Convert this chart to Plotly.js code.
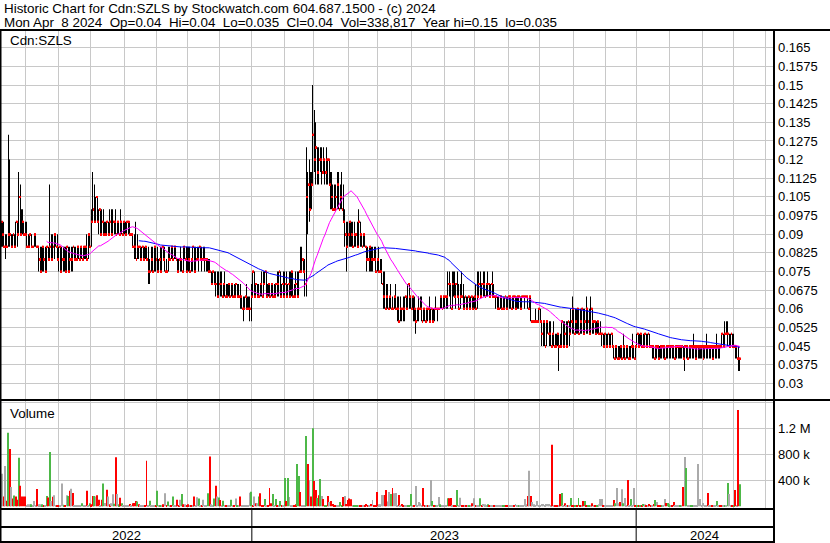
<!DOCTYPE html>
<html><head><meta charset="utf-8">
<script src="https://cdn.plot.ly/plotly-3.0.1.min.js"></script>
<style>html,body{margin:0;padding:0;background:#fff}#c{width:830px;height:543px}</style>
</head><body><div id="c"></div>
<script>
// ---- data ----
const openP=[
.095,.09,.085,.085,.085,.09,.09,.085,.09,.085,
.095,.09,.105,.09,.095,.09,.09,.085,.085,.09,
.085,.085,.09,.085,.085,.08,.075,.085,.08,.075,
.085,.08,.085,.08,.085,.09,.085,.08,.085,.075,
.08,.08,.075,.085,.075,.08,.08,.085,.08,.08,
.085,.08,.085,.08,.085,.085,.08,.09,.085,.095,
.1,.095,.105,.095,.1,.09,.095,.09,.09,.095,
.09,.095,.09,.095,.095,.09,.095,.09,.095,.09,
.095,.09,.095,.095,.09,.09,.085,.085,.08,.085,
.085,.08,.085,.08,.085,.08,.075,.075,.08,.075,
.085,.08,.075,.08,.075,.085,.08,.075,.075,.08,
.08,.085,.08,.085,.08,.075,.08,.08,.075,.085,
.08,.075,.08,.075,.08,.085,.075,.08,.08,.085,
.08,.08,.08,.08,.08,.075,.075,.07,.075,.07,
.07,.065,.07,.07,.065,.07,.065,.065,.07,.065,
.07,.065,.065,.07,.065,.065,.065,.06,.06,.065,
.06,.06,.06,.065,.075,.065,.07,.065,.065,.07,
.065,.07,.075,.065,.07,.065,.07,.065,.065,.07,
.07,.075,.065,.07,.065,.07,.065,.07,.065,.075,
.065,.065,.07,.065,.075,.075,.08,.075,.07,.105,
.11,.1,.11,.13,.12,.125,.115,.12,.12,.115,
.12,.115,.12,.12,.11,.105,.1,.1,.105,.11,
.1,.105,.1,.095,.09,.085,.09,.095,.09,.085,
.09,.09,.085,.095,.09,.085,.09,.085,.08,.08,
.085,.08,.08,.08,.075,.08,.075,.075,.07,.065,
.06,.065,.06,.065,.06,.06,.065,.06,.06,.055,
.06,.06,.06,.065,.06,.07,.065,.06,.065,.06,
.055,.06,.06,.06,.055,.06,.055,.06,.06,.055,
.06,.055,.06,.06,.06,.06,.065,.06,.065,.065,
.065,.07,.07,.06,.07,.065,.07,.065,.06,.065,
.065,.06,.065,.06,.065,.06,.065,.06,.065,.06,
.065,.07,.065,.07,.07,.065,.07,.07,.065,.07,
.065,.065,.065,.06,.06,.065,.06,.06,.065,.06,
.065,.065,.06,.065,.065,.06,.065,.065,.06,.065,
.065,.065,.065,.06,.065,.055,.055,.055,.055,.055,
.06,.055,.05,.055,.045,.055,.05,.05,.045,.05,
.045,.045,.05,.045,.045,.055,.045,.05,.045,.055,
.05,.055,.06,.05,.055,.06,.05,.055,.06,.05,
.055,.06,.055,.05,.06,.055,.055,.05,.055,.05,
.05,.05,.045,.05,.045,.05,.045,.05,.045,.04,
.045,.04,.04,.045,.04,.045,.04,.045,.04,.04,
.045,.045,.04,.045,.05,.045,.05,.045,.045,.05,
.045,.05,.045,.045,.045,.04,.045,.045,.04,.045,
.045,.045,.04,.045,.045,.045,.045,.045,.04,.045,
.045,.045,.045,.045,.04,.045,.045,.04,.045,.045,
.045,.045,.045,.045,.045,.045,.045,.045,.045,.045,
.045,.045,.045,.045,.045,.045,.045,.045,.045,.05,
.045,.05,.05,.05,.045,.05,.045,.045,.045,.04,
.04];
const highP=[
.095,.095,.09,.09,.13,.12,.09,.09,.09,.095,
.095,.115,.11,.1,.095,.095,.095,.09,.09,.09,
.085,.09,.09,.085,.085,.085,.085,.085,.085,.085,
.085,.11,.09,.09,.09,.09,.09,.085,.085,.085,
.085,.085,.085,.085,.085,.085,.085,.085,.085,.085,
.085,.085,.085,.085,.085,.09,.09,.09,.1,.115,
.11,.105,.105,.1,.1,.1,.1,.095,.095,.095,
.1,.1,.1,.095,.1,.095,.095,.1,.095,.095,
.095,.095,.095,.095,.09,.09,.09,.095,.09,.085,
.085,.085,.085,.085,.085,.085,.08,.085,.085,.085,
.085,.085,.08,.085,.085,.085,.085,.08,.085,.085,
.085,.085,.085,.085,.08,.08,.085,.08,.085,.085,
.085,.085,.085,.08,.085,.085,.085,.085,.085,.085,
.085,.085,.085,.08,.08,.08,.075,.075,.075,.075,
.075,.075,.075,.075,.07,.075,.07,.07,.07,.07,
.07,.07,.07,.07,.07,.07,.065,.065,.065,.07,
.065,.065,.07,.075,.075,.07,.07,.07,.07,.075,
.075,.075,.075,.07,.07,.07,.07,.07,.07,.075,
.075,.075,.07,.075,.075,.075,.07,.075,.075,.075,
.07,.075,.075,.075,.085,.085,.08,.08,.125,.115,
.12,.115,.15,.14,.135,.125,.125,.125,.125,.125,
.12,.125,.12,.12,.115,.11,.11,.11,.115,.115,
.11,.115,.11,.1,.095,.095,.095,.095,.095,.095,
.09,.095,.1,.095,.09,.09,.09,.085,.085,.085,
.085,.085,.085,.085,.08,.085,.08,.08,.075,.075,
.07,.07,.065,.07,.065,.065,.07,.065,.065,.065,
.06,.065,.065,.065,.07,.07,.065,.065,.065,.06,
.06,.065,.065,.065,.06,.06,.06,.06,.065,.06,
.06,.06,.065,.06,.06,.065,.065,.065,.065,.065,
.075,.075,.07,.075,.075,.07,.075,.07,.07,.075,
.07,.065,.065,.065,.065,.065,.065,.065,.07,.075,
.075,.075,.07,.075,.075,.07,.075,.07,.07,.075,
.07,.065,.065,.065,.065,.065,.065,.065,.065,.065,
.065,.065,.065,.065,.065,.065,.065,.065,.065,.065,
.065,.065,.065,.065,.065,.055,.055,.06,.055,.06,
.06,.055,.055,.055,.055,.055,.055,.055,.05,.055,
.05,.05,.05,.05,.055,.055,.055,.055,.055,.055,
.06,.065,.06,.06,.06,.06,.06,.06,.06,.06,
.065,.06,.06,.065,.06,.055,.055,.055,.055,.055,
.05,.05,.05,.05,.05,.05,.05,.05,.045,.045,
.045,.045,.045,.045,.05,.045,.045,.045,.045,.045,
.05,.045,.045,.05,.05,.05,.05,.05,.05,.05,
.05,.05,.045,.045,.045,.045,.045,.045,.045,.045,
.045,.045,.045,.045,.045,.045,.045,.045,.045,.045,
.045,.045,.045,.045,.045,.045,.045,.045,.045,.045,
.05,.045,.045,.045,.045,.045,.045,.045,.05,.045,
.045,.045,.045,.045,.045,.05,.045,.045,.05,.05,
.055,.055,.055,.05,.05,.05,.05,.045,.045,.045,
.04];
const lowP=[
.085,.085,.08,.085,.085,.085,.085,.085,.085,.085,
.085,.09,.09,.09,.09,.09,.085,.085,.085,.085,
.085,.085,.085,.085,.075,.075,.075,.075,.075,.075,
.08,.08,.08,.08,.08,.085,.08,.075,.075,.075,
.075,.075,.075,.075,.075,.075,.075,.08,.08,.08,
.08,.08,.08,.08,.08,.08,.08,.085,.085,.095,
.095,.095,.095,.09,.09,.09,.09,.09,.09,.09,
.09,.09,.09,.09,.09,.09,.09,.09,.09,.09,
.09,.09,.09,.09,.09,.085,.08,.08,.08,.08,
.08,.08,.08,.08,.08,.07,.07,.075,.075,.075,
.075,.075,.075,.075,.075,.08,.075,.075,.075,.08,
.08,.08,.08,.08,.075,.075,.075,.075,.075,.08,
.075,.075,.075,.075,.075,.075,.075,.08,.075,.08,
.075,.08,.075,.075,.075,.075,.07,.07,.07,.065,
.065,.065,.065,.065,.065,.065,.065,.065,.065,.065,
.065,.065,.065,.065,.065,.06,.06,.055,.06,.06,
.06,.055,.055,.065,.065,.065,.065,.065,.065,.065,
.065,.07,.065,.065,.065,.065,.065,.065,.065,.065,
.065,.065,.065,.065,.065,.065,.065,.065,.065,.065,
.065,.065,.065,.065,.075,.075,.075,.065,.065,.09,
.095,.1,.11,.115,.11,.11,.11,.115,.11,.115,
.11,.11,.11,.11,.1,.1,.1,.1,.1,.1,
.1,.1,.095,.085,.075,.085,.085,.085,.085,.085,
.085,.085,.085,.085,.085,.085,.085,.075,.08,.075,
.075,.075,.08,.075,.075,.075,.075,.07,.06,.06,
.06,.06,.06,.06,.06,.06,.06,.055,.055,.055,
.055,.055,.055,.06,.06,.06,.06,.06,.055,.05,
.055,.055,.06,.055,.055,.055,.055,.055,.055,.055,
.055,.055,.06,.055,.06,.06,.06,.06,.06,.06,
.06,.065,.06,.06,.065,.06,.065,.06,.06,.065,
.06,.06,.06,.06,.06,.06,.06,.06,.06,.06,
.065,.065,.065,.065,.065,.065,.065,.065,.065,.065,
.065,.06,.06,.06,.06,.06,.06,.06,.06,.06,
.06,.06,.06,.06,.06,.06,.06,.06,.06,.065,
.06,.065,.06,.06,.055,.055,.055,.055,.055,.055,
.055,.045,.045,.045,.045,.05,.045,.045,.045,.045,
.045,.045,.035,.045,.045,.045,.045,.045,.045,.045,
.05,.05,.05,.05,.05,.05,.05,.05,.05,.05,
.05,.05,.05,.05,.05,.05,.05,.05,.05,.05,
.045,.045,.045,.045,.045,.045,.045,.045,.04,.04,
.04,.04,.04,.04,.04,.04,.04,.04,.04,.04,
.04,.04,.04,.045,.045,.045,.045,.045,.045,.045,
.045,.045,.045,.04,.04,.04,.04,.04,.04,.04,
.04,.04,.04,.04,.04,.04,.04,.04,.04,.04,
.04,.04,.04,.04,.035,.04,.04,.04,.04,.04,
.04,.04,.04,.04,.04,.04,.04,.04,.04,.04,
.04,.04,.04,.04,.04,.04,.04,.04,.045,.045,
.045,.05,.045,.045,.045,.045,.045,.04,.04,.035,
.035];
const closeP=[
.095,.085,.085,.085,.09,.09,.085,.09,.085,.095,
.09,.105,.09,.095,.09,.09,.085,.085,.09,.085,
.085,.09,.085,.085,.08,.075,.085,.08,.075,.085,
.08,.085,.08,.085,.09,.085,.08,.085,.075,.08,
.08,.075,.085,.075,.08,.08,.085,.08,.08,.085,
.08,.085,.08,.085,.085,.08,.09,.085,.095,.1,
.095,.105,.095,.1,.09,.095,.09,.09,.095,.09,
.095,.09,.095,.095,.09,.095,.09,.095,.09,.095,
.09,.095,.095,.09,.09,.085,.085,.08,.085,.085,
.08,.085,.08,.085,.08,.075,.075,.08,.075,.085,
.08,.075,.08,.075,.085,.08,.075,.075,.08,.08,
.085,.08,.085,.08,.075,.08,.08,.075,.085,.08,
.075,.08,.075,.08,.085,.075,.08,.08,.085,.08,
.08,.08,.08,.08,.075,.075,.07,.075,.07,.07,
.065,.07,.07,.065,.07,.065,.065,.07,.065,.07,
.065,.065,.07,.065,.065,.065,.06,.06,.065,.06,
.06,.06,.065,.075,.065,.07,.065,.065,.07,.065,
.07,.075,.065,.07,.065,.07,.065,.065,.07,.07,
.075,.065,.07,.065,.07,.065,.07,.065,.075,.065,
.065,.07,.065,.075,.075,.08,.075,.07,.105,.11,
.1,.11,.13,.12,.125,.115,.12,.12,.115,.12,
.115,.12,.12,.11,.105,.1,.1,.105,.11,.1,
.105,.1,.095,.09,.085,.09,.095,.09,.085,.09,
.09,.085,.095,.09,.085,.09,.085,.08,.08,.085,
.08,.08,.08,.075,.08,.075,.075,.07,.065,.06,
.065,.06,.065,.06,.06,.065,.06,.06,.055,.06,
.06,.06,.065,.06,.07,.065,.06,.065,.06,.055,
.06,.06,.06,.055,.06,.055,.06,.06,.055,.06,
.055,.06,.06,.06,.06,.065,.06,.065,.065,.065,
.07,.07,.06,.07,.065,.07,.065,.06,.065,.065,
.06,.065,.06,.065,.06,.065,.06,.065,.06,.065,
.07,.065,.07,.07,.065,.07,.07,.065,.07,.065,
.065,.065,.06,.06,.065,.06,.06,.065,.06,.065,
.065,.06,.065,.065,.06,.065,.065,.06,.065,.065,
.065,.065,.06,.065,.055,.055,.055,.055,.055,.06,
.055,.05,.055,.045,.055,.05,.05,.045,.05,.045,
.045,.05,.045,.045,.055,.045,.05,.045,.055,.05,
.055,.06,.05,.055,.06,.05,.055,.06,.05,.055,
.06,.055,.05,.06,.055,.055,.05,.055,.05,.05,
.05,.045,.05,.045,.05,.045,.05,.045,.04,.045,
.04,.04,.045,.04,.045,.04,.045,.04,.04,.045,
.045,.04,.045,.05,.045,.05,.045,.045,.05,.045,
.05,.045,.045,.045,.04,.045,.045,.04,.045,.045,
.045,.04,.045,.045,.045,.045,.045,.04,.045,.045,
.045,.045,.045,.04,.045,.045,.04,.045,.045,.045,
.045,.04,.045,.045,.045,.045,.04,.045,.045,.045,
.045,.045,.04,.045,.045,.045,.045,.045,.05,.045,
.05,.05,.05,.045,.05,.045,.045,.045,.04,.04,
.04];
// daily volume, thousands of shares
const volK=[
500,150,620,85,1130,880,295,120,165,150,
100,745,315,150,150,150,15,30,30,30,
15,80,10,265,30,30,30,5,10,160,
135,835,80,145,170,10,5,5,5,350,
25,5,170,160,240,270,205,5,5,5,
5,5,45,5,5,240,5,45,30,160,
160,150,170,100,5,100,350,50,255,150,
30,45,185,40,755,190,30,130,45,5,
5,5,5,35,15,45,50,82,72,30,
5,5,5,5,700,20,87,5,5,5,
5,240,5,5,5,30,200,15,72,5,
5,150,5,5,100,5,100,190,30,30,
5,30,5,5,5,150,5,140,120,5,
15,100,5,15,200,765,30,5,120,315,
150,135,97,15,87,5,5,5,5,100,
5,15,120,5,15,150,5,5,5,5,
15,210,225,5,150,46,46,150,200,20,
20,113,5,20,282,46,190,20,113,5,
5,82,5,5,436,82,436,144,20,5,
5,30,650,466,220,5,5,20,1080,650,
395,150,1200,390,250,128,170,420,160,113,
20,20,160,67,82,36,5,5,15,15,
67,15,144,160,36,97,118,108,5,5,
5,5,5,5,5,5,5,36,5,5,
36,97,5,5,220,30,30,174,174,174,
250,72,220,190,282,200,205,5,174,10,
36,10,5,5,5,5,190,20,5,313,
5,67,46,15,282,5,5,5,5,405,
82,5,5,5,144,30,5,5,5,5,
123,123,128,5,5,5,250,5,133,5,
5,5,20,5,5,5,46,123,15,5,
5,123,5,36,30,5,30,5,5,5,
15,5,5,5,5,5,5,5,5,5,
5,20,20,5,36,5,5,5,5,5,
113,30,160,545,160,67,30,5,82,5,
5,36,36,5,36,36,36,5,945,5,
10,10,5,190,205,20,46,5,10,5,
128,10,10,10,20,128,20,5,82,82,
20,10,10,5,46,5,5,15,30,113,
113,10,5,10,10,20,5,5,97,46,
282,46,67,262,46,128,20,405,5,113,
10,282,20,5,5,5,10,36,30,10,
5,36,10,5,36,97,67,5,5,20,
5,113,51,51,30,20,15,67,5,15,
5,5,5,297,760,590,10,10,15,15,
5,20,15,650,113,5,51,5,5,205,
5,5,5,5,5,82,5,5,5,5,
5,5,360,190,5,5,20,250,5,1480,
339];
// r = down day, g = up day, n = unchanged
const volDir=[
'n','r','n','r','g','r','n','r','g','r',
'r','g','r','r','r','r','n','n','n','g',
'n','n','n','r','n','n','g','r','n','g',
'r','g','n','r','n','n','r','r','n','n',
'g','r','n','g','r','n','r','n','n','n',
'n','n','g','n','n','r','n','g','r','r',
'g','n','r','r','n','r','g','n','r','n',
'r','n','n','g','r','n','g','r','g','n',
'n','n','n','r','n','r','r','r','g','r',
'n','n','n','r','r','n','g','n','n','n',
'r','g','n','g','n','r','n','r','g','n',
'r','g','n','n','r','r','n','g','r','n',
'r','r','n','r','n','r','n','n','g','n',
'r','n','n','n','g','r','n','n','g','r',
'n','g','r','n','g','n','r','n','n','g',
'n','r','n','g','n','r','n','n','n','n',
'n','n','g','r','n','r','n','g','r','r',
'r','g','n','r','r','r','g','n','g','r',
'n','g','r','n','g','r','g','n','n','n',
'r','r','g','g','r','n','n','n','g','r',
'n','r','g','r','r','g','r','g','n','r',
'g','g','r','n','r','r','r','r','n','n',
'g','g','r','n','r','r','r','r','n','g',
'g','g','n','r','r','n','r','r','r','n',
'r','n','r','r','r','n','n','n','n','r',
'r','n','n','g','r','n','n','n','r','n',
'r','r','n','n','g','g','g','n','r','n',
'n','n','n','n','r','r','n','r','n','n',
'g','r','g','n','n','g','n','n','n','n',
'g','r','r','n','r','r','g','n','n','r',
'r','n','r','n','g','n','r','n','r','n',
'n','g','r','n','n','n','g','r','n','n',
'r','n','n','n','n','n','g','g','r','r',
'n','n','n','r','n','n','g','n','n','n',
'n','n','r','n','r','n','n','n','n','n',
'n','n','n','n','n','n','n','n','r','n',
'r','r','n','r','g','n','r','n','r','n',
'g','r','r','g','r','g','r','n','r','g',
'r','g','g','n','r','n','r','g','n','n',
'n','r','n','n','n','n','n','n','r','g',
'n','n','r','n','g','n','n','r','n','g',
'n','n','r','g','r','g','r','g','n','r',
'n','r','r','n','r','g','n','r','r','g',
'n','n','r','g','g','n','r','r','n','n',
'n','g','n','r','n','g','n','n','g','g',
'n','n','n','n','n','n','n','n','n','r',
'n','n','r','n','n','g','n','r','r','n',
'g','n','g','n','n','r','g','r','n','r',
'g'];
// index of the first bar of each month (Jun 2022 .. May 2024)
const monthStart=[16,37,58,80,101,121,142,163,184,203,226,245,267,288,308,330,350,372,393,413,435,456,476,497];
const yearStartIdx=[163,413];
const yearLabels=['2022','2023','2024'];
const priceTicks=[0.03,0.0375,0.045,0.0525,0.06,0.0675,0.075,0.0825,0.09,0.0975,0.105,0.1125,0.12,0.1275,0.135,0.1425,0.15,0.1575,0.165];
const priceTickText=['0.03','0.0375','0.045','0.0525','0.06','0.0675','0.075','0.0825','0.09','0.0975','0.105','0.1125','0.12','0.1275','0.135','0.1425','0.15','0.1575','0.165'];
const volTicks=[400000,800000,1200000,1600000];
const volTickText=['400 k','800 k','1.2 M',''];
const maShortLen=30, maLongLen=90;
const headerLine1='Historic Chart for Cdn:SZLS by Stockwatch.com 604.687.1500 - (c) 2024';
const headerLine2='Mon Apr  8 2024  Op=0.04  Hi=0.04  Lo=0.035  Cl=0.04  Vol=338,817  Year hi=0.15  lo=0.035';

// ---- build ----
const idx=closeP.map((_,i)=>i);
function sma(a,n){return a.map((_,i)=>{if(i<n-1)return null;let s=0;for(let k=i-n+1;k<=i;k++)s+=a[k];return s/n;});}
const tickH=0.0008;
const FONT="Arial, 'Liberation Sans', sans-serif";
const dirColor={r:'#ff0000',g:'#4db848',n:'#aaaaaa'};
const X0=-0.65, X1=501.5;

const traces=[
 {type:'bar',x:idx,base:lowP,y:highP.map((h,i)=>h-lowP[i]),width:0.05,marker:{color:'#000000',line:{width:0}},hoverinfo:'skip',xaxis:'x',yaxis:'y'},
 {type:'bar',x:idx.map(i=>i-0.4),base:openP.map(v=>v-tickH/2),y:openP.map(()=>tickH),width:0.4,marker:{color:'#ff0000',line:{width:0}},hoverinfo:'skip',xaxis:'x',yaxis:'y'},
 {type:'bar',x:idx.map(i=>i+0.4),base:closeP.map(v=>v-tickH/2),y:closeP.map(()=>tickH),width:0.4,marker:{color:'#ff0000',line:{width:0}},hoverinfo:'skip',xaxis:'x',yaxis:'y'},
 {type:'scatter',mode:'lines',x:idx,y:sma(closeP,maLongLen),line:{color:'#0000ff',width:1},hoverinfo:'skip',xaxis:'x',yaxis:'y'},
 {type:'scatter',mode:'lines',x:idx,y:sma(closeP,maShortLen),line:{color:'#ff00ff',width:1},hoverinfo:'skip',xaxis:'x',yaxis:'y'},
 {type:'bar',x:idx,y:volK.map(v=>v*1000),width:0.62,marker:{color:volDir.map(d=>dirColor[d]),line:{width:0}},hoverinfo:'skip',xaxis:'x',yaxis:'y2'}
];

// pixel helpers for frame lines (layout only)
const ML=1,MR=57,MT=31,MB=33,W=830,H=543;
const PW=W-ML-MR, PH=H-MT-MB;
const px=v=>(v-ML)/PW, py=v=>(H-MB-v)/PH;
const frame=[];
function hline(y,xa,xb,w){frame.push({type:'line',xref:'paper',yref:'paper',x0:px(xa),x1:px(xb),y0:py(y),y1:py(y),line:{color:'#000',width:w}});}
function vline(x,ya,yb,w){frame.push({type:'line',xref:'paper',yref:'paper',x0:px(x),x1:px(x),y0:py(ya),y1:py(yb),line:{color:'#000',width:w}});}
hline(30,0,830,2); hline(400,0,830,2); hline(509,0,774,2); hline(527,0,774,2); hline(542,0,774,2);
vline(0.5,29,543,2); vline(774,29,543,2);
yearStartIdx.forEach(k=>frame.push({type:'line',xref:'x',yref:'paper',x0:k-0.5,x1:k-0.5,y0:py(510),y1:py(542),line:{color:'#000',width:1}}));

const bounds=[X0].concat(yearStartIdx.map(k=>k-0.5)).concat([X1]);
const ann=yearLabels.map((t,j)=>({text:t,xref:'x',yref:'paper',x:(bounds[j]+bounds[j+1])/2,y:py(535),xanchor:'center',yanchor:'middle',showarrow:false,font:{family:FONT,size:13,color:'#000'}}));
const nb=s=>s.replace(/  /g,' \u00a0');
const HF={family:FONT,size:13.4,color:'#000'};
ann.push({text:headerLine1,xref:'paper',yref:'paper',x:px(2),y:py(8.5),xanchor:'left',yanchor:'middle',showarrow:false,font:HF});
ann.push({text:nb(headerLine2),xref:'paper',yref:'paper',x:px(2),y:py(22.5),xanchor:'left',yanchor:'middle',showarrow:false,font:HF});
ann.push({text:'Cdn:SZLS',xref:'paper',yref:'paper',x:px(8),y:py(40.5),xanchor:'left',yanchor:'middle',showarrow:false,font:HF});
ann.push({text:'Volume',xref:'paper',yref:'paper',x:px(8),y:py(413),xanchor:'left',yanchor:'middle',showarrow:false,font:HF});

const split=110/PH;
const layout={
 width:W,height:H,margin:{l:ML,r:MR,t:MT,b:MB,pad:0},
 paper_bgcolor:'#ffffff',plot_bgcolor:'#ffffff',showlegend:false,barmode:'overlay',
 font:{family:FONT,size:13,color:'#000'},
 xaxis:{range:[X0,X1],anchor:'y2',tickmode:'array',tickvals:monthStart.map(k=>k-0.5),showticklabels:false,ticks:'',showgrid:true,gridcolor:'#c8c8c8',gridwidth:1,zeroline:false,showline:false,fixedrange:true},
 yaxis:{domain:[split,1],range:[0.02333,0.17172],side:'right',anchor:'x',tickmode:'array',tickvals:priceTicks,ticktext:priceTickText,ticks:'',ticklabelstandoff:4,showgrid:true,gridcolor:'#c8c8c8',gridwidth:1,zeroline:false,showline:false,tickfont:{family:FONT,size:13,color:'#000'},fixedrange:true},
 yaxis2:{domain:[0,split],range:[-57000,1635000],side:'right',anchor:'x',tickmode:'array',tickvals:volTicks,ticktext:volTickText,ticks:'',ticklabelstandoff:4,showgrid:true,gridcolor:'#c8c8c8',gridwidth:1,zeroline:false,showline:false,tickfont:{family:FONT,size:13,color:'#000'},fixedrange:true},
 shapes:frame,annotations:ann
};
Plotly.newPlot('c',traces,layout,{displayModeBar:false,responsive:false});
</script>
</body></html>
